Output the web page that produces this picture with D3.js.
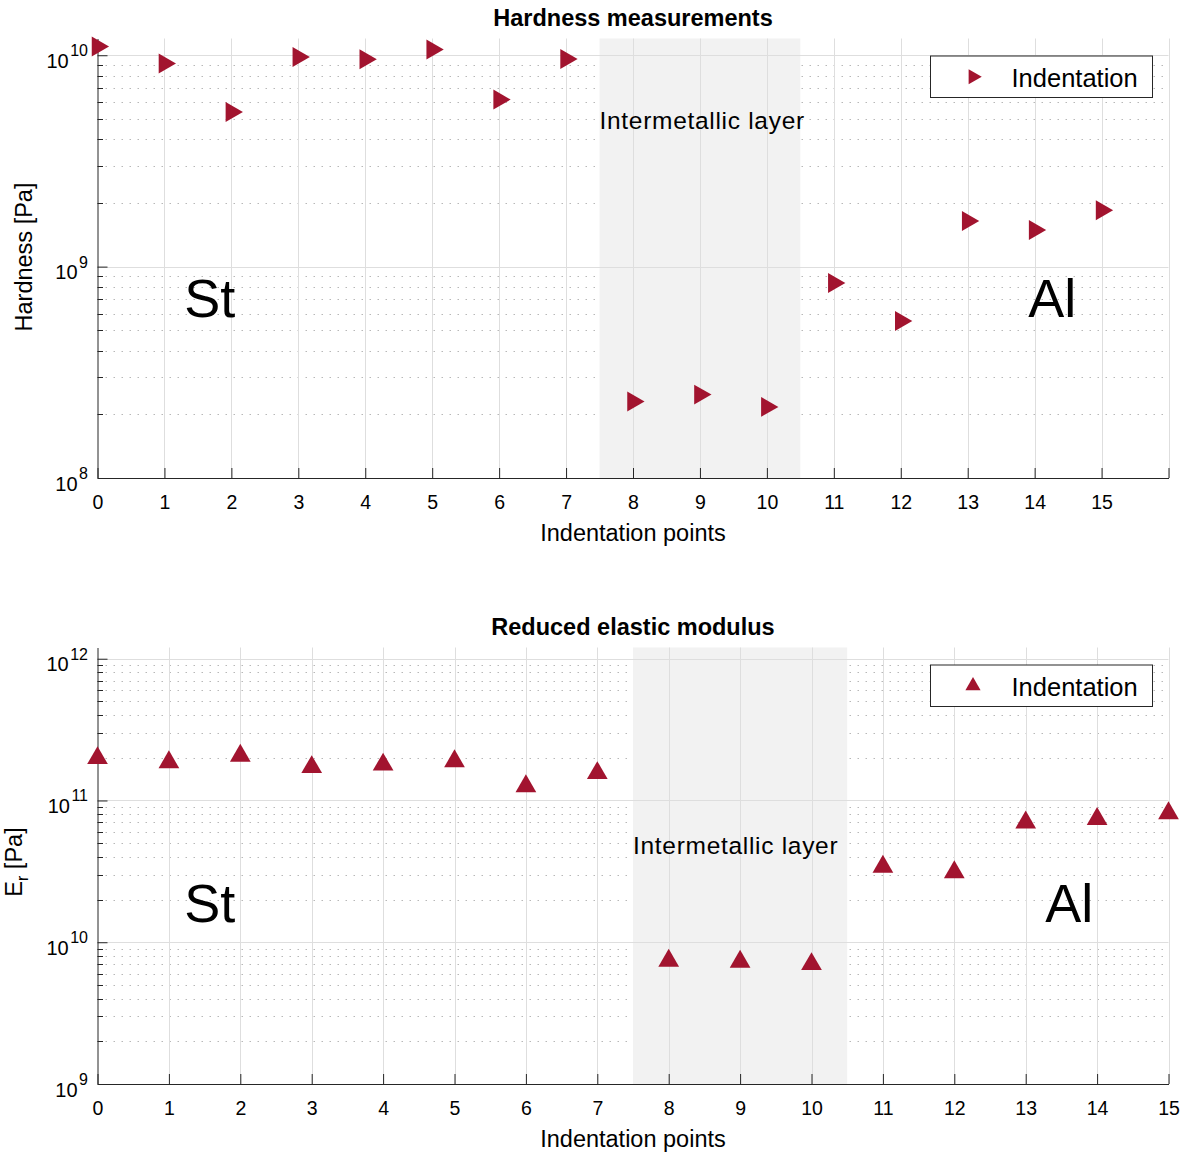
<!DOCTYPE html>
<html>
<head>
<meta charset="utf-8">
<script src="https://cdn.jsdelivr.net/npm/d3@7"></script>
<style>
  body { margin: 0; background: #fff; }
  svg { display: block; }
  text { font-family: "Liberation Sans", Arial, Helvetica, sans-serif; fill: #000; }
</style>
</head>
<body>
<svg id="chart" width="1188" height="1153"></svg>
<script>
// ---- data ----
const indentationPoints = [0, 1, 2, 3, 4, 5, 6, 7, 8, 9, 10, 11, 12, 13, 14, 15];
const hardnessPa = [1.10e10, 9.13e9, 5.39e9, 9.82e9, 9.57e9, 1.064e10, 6.17e9, 9.60e9,
                    2.30e8, 2.48e8, 2.17e8, 8.37e8, 5.53e8, 1.645e9, 1.49e9, 1.85e9];
const modulusPa = [1.99e11, 1.86e11, 2.07e11, 1.72e11, 1.79e11, 1.89e11, 1.26e11, 1.56e11,
                   7.41e9, 7.29e9, 7.01e9, 3.41e10, 3.12e10, 7.0e10, 7.41e10, 8.14e10];
const hardnessXTicks = [0, 1, 2, 3, 4, 5, 6, 7, 8, 9, 10, 11, 12, 13, 14, 15, 16];
const hardnessXTickLabels = ["0", "1", "2", "3", "4", "5", "6", "7", "8", "9", "10", "11", "12", "13", "14", "15", ""];
const modulusXTicks = [0, 1, 2, 3, 4, 5, 6, 7, 8, 9, 10, 11, 12, 13, 14, 15];
const modulusXTickLabels = ["0", "1", "2", "3", "4", "5", "6", "7", "8", "9", "10", "11", "12", "13", "14", "15"];
const hardnessYRange = [1e8, 1.2e10];
const modulusYRange = [1e9, 1.2e12];
const layerSpan = [7.5, 10.5];
const layerLabel = "Intermetallic layer";
const regionLabels = ["St", "Al"];
const legendLabel = "Indentation";
const xLabel = "Indentation points";

// ---- styling ----
const markerColor = "#A2142F";
const axisColor = "#262626";
const FONT = '"Liberation Sans", Arial, Helvetica, sans-serif';

const svg = d3.select("#chart");

function decadeTicks(domain) {
  const majors = [], minors = [];
  const eLo = Math.floor(Math.log10(domain[0]));
  const eHi = Math.ceil(Math.log10(domain[1]));
  for (let e = eLo; e <= eHi; e++) {
    const p = Math.pow(10, e);
    if (p >= domain[0] && p <= domain[1]) majors.push(p);
    for (let k = 2; k <= 9; k++) {
      const v = k * p;
      if (v > domain[0] && v < domain[1]) minors.push(v);
    }
  }
  return { majors, minors };
}

function drawPanel(cfg) {
  const { top, bottom, left, right } = cfg.box;
  const x = d3.scaleLinear().domain(cfg.xDomain).range([left, right]);
  const y = d3.scaleLog().domain(cfg.yDomain).range([bottom, top]);
  const { majors, minors } = decadeTicks(cfg.yDomain);
  const g = svg.append("g");

  // minor grid (dotted)
  g.append("g").selectAll("line").data(minors).join("line")
    .attr("x1", left).attr("x2", right)
    .attr("y1", d => Math.round(y(d)) + 0.5).attr("y2", d => Math.round(y(d)) + 0.5)
    .attr("stroke", "#b8b8b8").attr("stroke-width", 1)
    .attr("stroke-dasharray", "1.5,6.5");

  // shaded intermetallic layer
  g.append("rect")
    .attr("x", x(layerSpan[0])).attr("y", top)
    .attr("width", x(layerSpan[1]) - x(layerSpan[0]))
    .attr("height", bottom - top)
    .attr("fill", "#f2f2f2");

  // major grid
  g.append("g").selectAll("line").data(majors.filter(d => d > cfg.yDomain[0])).join("line")
    .attr("x1", left).attr("x2", right)
    .attr("y1", d => Math.round(y(d)) + 0.5).attr("y2", d => Math.round(y(d)) + 0.5)
    .attr("stroke", "#dedede").attr("stroke-width", 1);
  g.append("g").selectAll("line").data(cfg.xTicks.filter(d => d > cfg.xDomain[0])).join("line")
    .attr("x1", d => Math.round(x(d)) + 0.5).attr("x2", d => Math.round(x(d)) + 0.5)
    .attr("y1", top).attr("y2", bottom)
    .attr("stroke", "#dedede").attr("stroke-width", 1);

  // x axis
  const xAxis = d3.axisBottom(x)
    .tickValues(cfg.xTicks)
    .tickFormat((d, i) => cfg.xTickLabels[i])
    .tickSizeInner(-10).tickSizeOuter(0).tickPadding(17);
  const gx = g.append("g").attr("transform", `translate(0,${bottom})`).call(xAxis);
  gx.attr("font-family", FONT).attr("font-size", 19.5);
  gx.selectAll("path, line").attr("stroke", axisColor);
  gx.selectAll("text").attr("fill", "#262626");

  // y axis (decades) with superscript labels
  const yAxis = d3.axisLeft(y)
    .tickValues(majors)
    .tickFormat(() => "")
    .tickSizeInner(-10).tickSizeOuter(0).tickPadding(9.5);
  const gy = g.append("g").attr("transform", `translate(${left},0)`).call(yAxis);
  gy.attr("font-family", FONT);
  gy.selectAll("path, line").attr("stroke", axisColor);
  gy.selectAll(".tick text").each(function (d) {
    const t = d3.select(this).attr("dy", null).attr("fill", "#262626");
    t.append("tspan").attr("font-size", 20).attr("dy", 12).text("10");
    t.append("tspan").attr("font-size", 16).attr("dx", 1.5).attr("dy", -11.5)
      .text(String(Math.round(Math.log10(d))));
  });
  // minor y ticks
  g.append("g").selectAll("line").data(minors).join("line")
    .attr("x1", left).attr("x2", left + 5.5)
    .attr("y1", d => Math.round(y(d)) + 0.5).attr("y2", d => Math.round(y(d)) + 0.5)
    .attr("stroke", axisColor);

  // region annotations
  g.append("text")
    .attr("x", x(layerSpan[0])).attr("y", y(cfg.layerLabelY))
    .attr("font-size", 24.5).attr("letter-spacing", 0.7)
    .text(layerLabel);
  g.append("text")
    .attr("x", left + cfg.stPos[0] * (right - left))
    .attr("y", top + cfg.stPos[1] * (bottom - top))
    .attr("font-size", 54).text(regionLabels[0]);
  g.append("text")
    .attr("x", left + cfg.alPos[0] * (right - left))
    .attr("y", top + cfg.alPos[1] * (bottom - top))
    .attr("font-size", 54).text(regionLabels[1]);

  // markers
  const sym = d3.symbol(d3.symbolTriangle, cfg.markerSize);
  g.append("g").selectAll("path").data(indentationPoints).join("path")
    .attr("d", sym)
    .attr("transform", (d, i) => `translate(${x(d)},${y(cfg.values[i])}) rotate(${cfg.rotate})`)
    .attr("fill", markerColor);

  // legend
  const lw = 222, lh = 41.5;
  const lx = right - 16.5 - lw, ly = top + 17;
  const lg = g.append("g").attr("transform", `translate(${lx},${ly})`);
  lg.append("rect").attr("x", 0.5).attr("y", 0.5).attr("width", lw).attr("height", lh)
    .attr("fill", "#fff").attr("stroke", axisColor).attr("stroke-width", 1);
  lg.append("path").attr("d", d3.symbol(d3.symbolTriangle, 100))
    .attr("transform", `translate(${43},${lh / 2 + 0.5}) rotate(${cfg.rotate})`)
    .attr("fill", markerColor);
  lg.append("text").attr("x", 81.5).attr("y", lh / 2 + 10.5)
    .attr("font-size", 25.5).text(legendLabel);

  // title and axis labels
  svg.append("text")
    .attr("x", (left + right) / 2).attr("y", cfg.titleY)
    .attr("text-anchor", "middle").attr("font-weight", "bold").attr("font-size", 23.5)
    .text(cfg.title);
  svg.append("text")
    .attr("x", (left + right) / 2).attr("y", bottom + 62.5)
    .attr("text-anchor", "middle").attr("font-size", 23.5).attr("fill", "#262626")
    .text(xLabel);
  const yl = svg.append("text")
    .attr("transform", `translate(${cfg.yLabelPos[0]},${cfg.yLabelPos[1]}) rotate(-90)`)
    .attr("text-anchor", "middle").attr("font-size", 23.5).attr("fill", "#262626");
  cfg.yLabel(yl);
}

drawPanel({
  box: { top: 38.5, bottom: 478, left: 97.5, right: 1168.5 },
  xDomain: [0, 16], yDomain: hardnessYRange,
  xTicks: hardnessXTicks, xTickLabels: hardnessXTickLabels,
  values: hardnessPa, rotate: 90, markerSize: 173,
  layerLabelY: 4.47e9,
  stPos: [0.081, 0.634], alPos: [0.869, 0.634],
  title: "Hardness measurements", titleY: 26,
  yLabelPos: [31.5, 257],
  yLabel: t => t.text("Hardness [Pa]")
});

drawPanel({
  box: { top: 647.5, bottom: 1084, left: 97.5, right: 1168.5 },
  xDomain: [0, 15], yDomain: modulusYRange,
  xTicks: modulusXTicks, xTickLabels: modulusXTickLabels,
  values: modulusPa, rotate: 0, markerSize: 186,
  layerLabelY: 4.2e10,
  stPos: [0.081, 0.628], alPos: [0.885, 0.628],
  title: "Reduced elastic modulus", titleY: 635,
  yLabelPos: [21.5, 862],
  yLabel: t => {
    t.append("tspan").text("E");
    t.append("tspan").attr("font-size", 16).attr("dy", 6).text("r");
    t.append("tspan").attr("dy", -6).text(" [Pa]");
  }
});
</script>
</body>
</html>
